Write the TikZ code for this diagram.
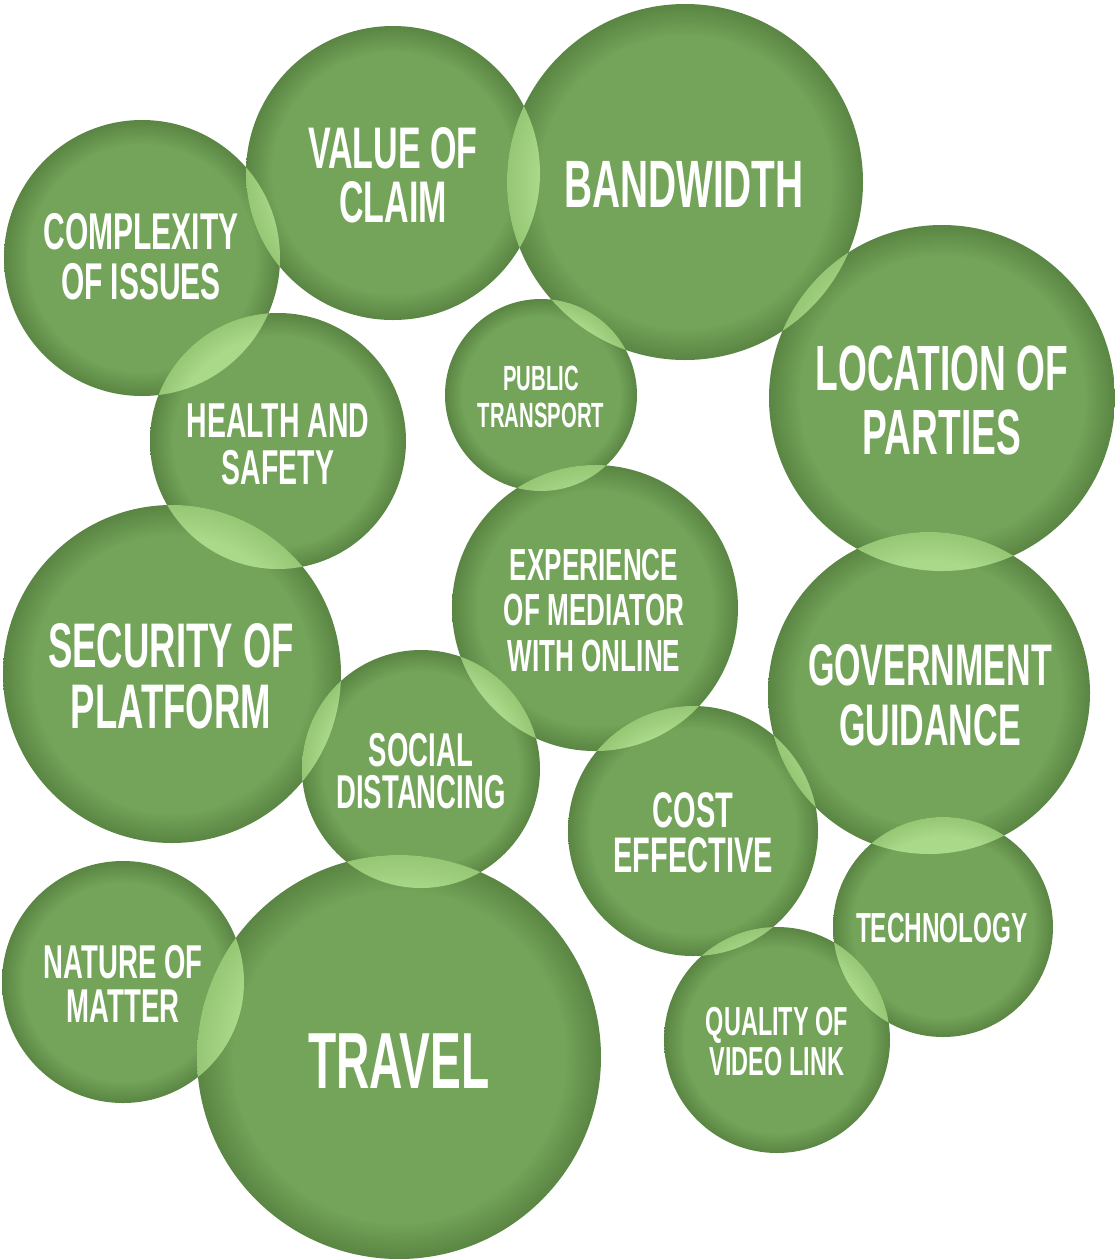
\documentclass[tikz,border=0pt]{standalone}
\usepackage{fontspec}
\usetikzlibrary{calc}
% condensed bold sans for the bubble labels
\newfontfamily\lblfont{Liberation Sans}[FakeStretch=0.58]
\definecolor{gmain}{RGB}{115,164,89}
\definecolor{gdark}{RGB}{90,133,67}
\definecolor{llight}{RGB}{170,217,137}
\definecolor{ldark}{RGB}{150,199,117}
% flat fill with a darker rim (a shaded path maps 25bp to its half-size)
\pgfdeclareradialshading{bubble}{\pgfpoint{0bp}{0bp}}{color(0bp)=(gmain); color(20.5bp)=(gmain); color(25bp)=(gdark); color(50bp)=(gdark)}
\pgfdeclareradialshading{lensfill}{\pgfpoint{0bp}{0bp}}{color(0bp)=(llight); color(20.5bp)=(llight); color(25bp)=(ldark); color(50bp)=(ldark)}

\begin{document}
\begin{tikzpicture}[x=1pt,y=-1pt,
  bubble/.style={circle, inner sep=0pt, outer sep=0pt, minimum size={#1}, shade, shading=bubble},
  lbl/.style={text=white, inner sep=0pt, anchor=base, text depth=0pt, text height={0.72*#1},
              font=\lblfont\bfseries\fontsize{#1}{#1}\selectfont}]
\fill[white] (0,0) rectangle (1115,1259);
\useasboundingbox (0,0) rectangle (1115,1259);

% the bubbles
\foreach \name/\cx/\cy/\r in {
  complexity/142/258/138, value/393/173/147, bandwidth/685/182/178,
  location/942/398/173, transport/541/395/96, health/278/441/128,
  experience/595/608/143, security/172/674/169, government/929/693/161,
  social/421/769/119, cost/693/831/125, technology/943/927/110,
  nature/123/982/121, travel/399/1057/202, quality/777/1040/113}
  { \node[bubble={2*\r*1pt}] (\name) at (\cx,\cy) {}; }

% lighter lens where two bubbles overlap
\foreach \a/\b in {
  complexity/value, complexity/health, value/bandwidth, bandwidth/transport,
  bandwidth/location, transport/experience, health/security, location/government,
  experience/social, experience/cost, security/social, social/travel,
  cost/government, government/technology, cost/quality, technology/quality,
  nature/travel}
{
  \begin{scope}
    \path[clip] let \p1=($(\a.east)-(\a.center)$) in (\a.center) circle[radius=\x1];
    \path[shade, shading=lensfill] let \p1=($(\b.east)-(\b.center)$) in (\b.center) circle[radius=\x1];
  \end{scope}
}

% labels
\node[lbl=51.7pt] (complexity-1) at (141,249) {COMPLEXITY};
\node[lbl=51.7pt] (complexity-2) at (141,299) {OF ISSUES};
\node[lbl=58.7pt] (value-1) at (393,168) {VALUE OF};
\node[lbl=58.7pt] (value-2) at (393,222) {CLAIM};
\node[lbl=67pt] (bandwidth-1) at (684,207) {BANDWIDTH};
\node[lbl=64pt] (location-1) at (942,390) {LOCATION OF};
\node[lbl=64pt] (location-2) at (942,454) {PARTIES};
\node[lbl=35pt] (transport-1) at (541,390) {PUBLIC};
\node[lbl=35pt] (transport-2) at (541,427) {TRANSPORT};
\node[lbl=49pt] (health-1) at (278,437) {HEALTH AND};
\node[lbl=49pt] (health-2) at (278,484) {SAFETY};
\node[lbl=45pt] (experience-1) at (594,580) {EXPERIENCE};
\node[lbl=45pt] (experience-2) at (594,625) {OF MEDIATOR};
\node[lbl=45pt] (experience-3) at (594,671) {WITH ONLINE};
\node[lbl=63pt] (security-1) at (171,667) {SECURITY OF};
\node[lbl=63pt] (security-2) at (171,728) {PLATFORM};
\node[lbl=58.7pt] (government-1) at (930,685) {GOVERNMENT};
\node[lbl=58.7pt] (government-2) at (930,745) {GUIDANCE};
\node[lbl=47.5pt] (social-1) at (421,766) {SOCIAL};
\node[lbl=47.5pt] (social-2) at (421,808) {DISTANCING};
\node[lbl=50pt] (cost-1) at (693,827) {COST};
\node[lbl=50pt] (cost-2) at (693,872) {EFFECTIVE};
\node[lbl=42pt] (technology-1) at (942,942) {TECHNOLOGY};
\node[lbl=47.5pt] (nature-1) at (123,978) {NATURE OF};
\node[lbl=47.5pt] (nature-2) at (123,1022) {MATTER};
\node[lbl=79.6pt] (travel-1) at (399,1088) {TRAVEL};
\node[lbl=40.5pt] (quality-1) at (777,1035) {QUALITY OF};
\node[lbl=40.5pt] (quality-2) at (777,1075) {VIDEO LINK};
\end{tikzpicture}
\end{document}
